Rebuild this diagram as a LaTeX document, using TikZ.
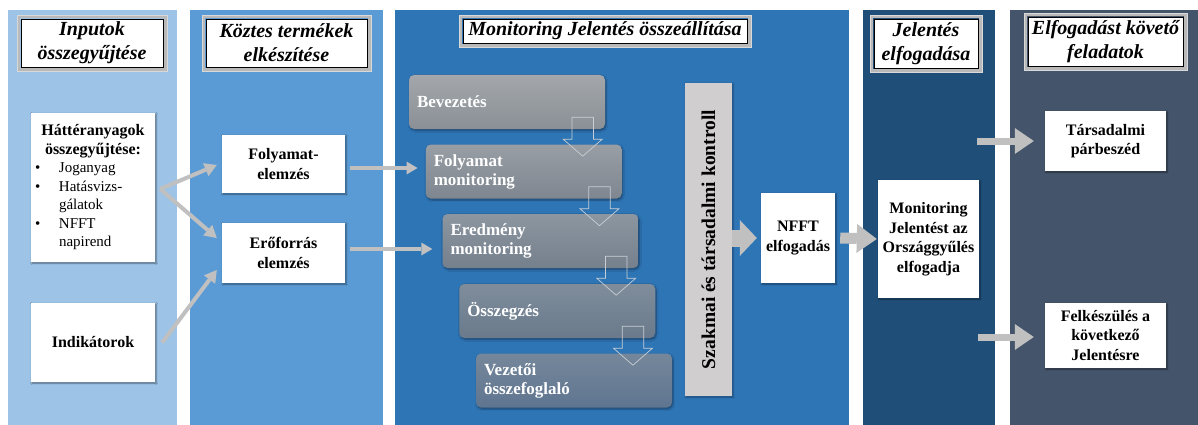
\documentclass[tikz,border=0pt]{standalone}
\usepackage{fontspec}
\setmainfont{Liberation Serif}
\usetikzlibrary{calc,arrows.meta,shadows.blur}

\definecolor{colA}{HTML}{9DC3E6}
\definecolor{colB}{HTML}{5B9BD5}
\definecolor{colC}{HTML}{2E75B6}
\definecolor{colD}{HTML}{1F4E79}
\definecolor{colE}{HTML}{44546A}
\definecolor{arrowgray}{HTML}{C0C0C0}
\definecolor{bargray}{HTML}{D0CECE}
\definecolor{hollowgray}{HTML}{C9CED4}

\tikzset{
  hdr/.style={fill=white, draw=black, line width=0.6pt, inner sep=0pt, align=center,
    font=\fontsize{20}{24}\selectfont\bfseries\itshape},
  wbox/.style={fill=white, inner sep=3pt, align=center,
    font=\fontsize{16}{19.5}\selectfont\bfseries,
    blur shadow={shadow blur steps=6, shadow xshift=1pt, shadow yshift=-1pt, shadow opacity=45}},
  gbox/.style={rounded corners=5pt, inner xsep=8pt, text width=180pt, minimum height=54pt,
    align=left, text=white, font=\fontsize{17}{19}\selectfont\bfseries,
    blur shadow={shadow blur steps=5, shadow xshift=1pt, shadow yshift=-1.5pt, shadow opacity=40}},
  linearrow/.style={arrowgray, line width=4pt,
    -{Triangle[length=12pt, width=14pt, line width=0pt]}},
  hollow/.style={hollowgray, line width=0.7pt, line join=miter},
}

\begin{document}
\begin{tikzpicture}[x=1pt, y=-1pt]
\useasboundingbox (0,0) rectangle (1198,425);
\fill[white] (0,0) rectangle (1198,425);

% column backgrounds
\fill[colA] (8,10) rectangle (177,425);
\fill[colB] (190,10) rectangle (383,425);
\fill[colC] (395,10) rectangle (849,425);
\fill[colD] (863,10) rectangle (995,425);
\fill[colE] (1010,10) rectangle (1198,425);

% column headers
\node[hdr, minimum width=142pt, minimum height=48pt] (h1) at (92,43) {Inputok\\összegyűjtése};
\node[hdr, minimum width=161pt, minimum height=48pt] (h2) at (286.5,43) {Köztes termékek\\elkészítése};
\node[hdr, minimum width=284pt, minimum height=24pt] (h3) at (605,31) {Monitoring Jelentés összeállítása};
\node[hdr, minimum width=104pt, minimum height=49pt] (h4) at (926,43.5) {Jelentés\\elfogadása};
\node[hdr, minimum width=155pt, minimum height=49pt] (h5) at (1105.5,41.5) {Elfogadást követő\\feladatok};
\foreach \h in {h1,h2,h3,h4,h5} {
  \draw[gray!55, line width=3pt] ($(\h.north west)+(-2,-2)$) rectangle ($(\h.south east)+(2,2)$);
  \draw[gray!30, line width=0.6pt] ($(\h.north west)+(-3.6,-3.6)$) rectangle ($(\h.south east)+(3.6,3.6)$);
}

% inputs
\node[wbox, minimum width=124pt, minimum height=149pt, inner sep=4pt] (hatt) at (93,187.5) {%
  \fontsize{15}{18.5}\selectfont
  \begin{tabular}{@{}p{24pt}@{}l@{}}
  \multicolumn{2}{@{}c@{}}{\makebox[116pt]{\fontsize{16}{18.5}\selectfont Háttéranyagok}}\\
  \multicolumn{2}{@{}c@{}}{\makebox[116pt]{\fontsize{16}{18.5}\selectfont összegyűjtése:}}\\
  \mdseries\textbullet & \mdseries Joganyag\\
  \mdseries\textbullet & \mdseries Hatásvizs-\\
   & \mdseries gálatok\\
  \mdseries\textbullet & \mdseries NFFT\\
   & \mdseries napirend
  \end{tabular}};
\node[wbox, minimum width=124pt, minimum height=79pt] (ind) at (93,342.5) {Indikátorok};

% intermediate products
\node[wbox, minimum width=123pt, minimum height=58pt] (fe) at (283.5,164) {Folyamat-\\elemzés};
\node[wbox, minimum width=123pt, minimum height=60pt] (ef) at (283.5,253) {Erőforrás\\elemzés};

% report chapters
\node[gbox, top color={rgb,255:red,163;green,167;blue,171}, bottom color={rgb,255:red,138;green,144;blue,150}] (b1) at (507,102) {Bevezetés};
\node[gbox, top color={rgb,255:red,152;green,158;blue,164}, bottom color={rgb,255:red,126;green,134;blue,144}] (b2) at (523.75,171.5) {Folyamat\\monitoring};
\node[gbox, top color={rgb,255:red,140;green,150;blue,160}, bottom color={rgb,255:red,117;green,128;blue,141}] (b3) at (540.5,241) {Eredmény\\monitoring};
\node[gbox, top color={rgb,255:red,127;green,141;blue,155}, bottom color={rgb,255:red,106;green,122;blue,140}] (b4) at (557.25,311) {Összegzés};
\node[gbox, top color={rgb,255:red,117;green,135;blue,154}, bottom color={rgb,255:red,95;green,117;blue,144}] (b5) at (574,380.5) {Vezetői\\összefoglaló};

% hollow arrows between chapters
\foreach \i in {1,2,3,4} {
  \draw[hollow] ($(b\i.south east)+(-33.3,-12)$) -- ($(b\i.south east)+(-11.7,-12)$)
    -- ($(b\i.south east)+(-11.7,10)$) -- ($(b\i.south east)+(-3,10)$)
    -- ($(b\i.south east)+(-22.5,27)$) -- ($(b\i.south east)+(-42,10)$)
    -- ($(b\i.south east)+(-33.3,10)$) -- cycle;
}

% control bar
\node[fill=bargray, minimum width=313pt, minimum height=47pt, rotate=90, inner sep=0pt,
      font=\fontsize{19.5}{22}\selectfont\bfseries,
      blur shadow={shadow blur steps=4, shadow xshift=1pt, shadow yshift=-1pt, shadow opacity=35}]
      (bar) at (708.5,239.5) {Szakmai és társadalmi kontroll};

% adoption
\node[wbox, minimum width=74pt, minimum height=90pt] (nfft) at (798,238) {NFFT\\elfogadás};
\node[wbox, minimum width=101pt, minimum height=118pt, inner sep=1pt] (mon) at (928.5,239) {Monitoring\\Jelentést az\\Országgyűlés\\elfogadja};

% follow-up tasks
\node[wbox, minimum width=121pt, minimum height=60pt] (tars) at (1105.5,141) {Társadalmi\\párbeszéd};
\node[wbox, minimum width=121pt, minimum height=65pt] (felk) at (1105.5,335.5) {Felkészülés a\\következő\\Jelentésre};

% connectors
\coordinate (fork) at ($(hatt.east)+(5,1.5)$);
\draw[linearrow] (fork) -- ($(fe.west)+(-5,1)$);
\draw[linearrow] (fork) -- ($(ef.west)+(-5,-15)$);
\draw[linearrow] ($(ind.east)+(7,0)$) -- ($(ef.west)+(-5,17)$);

\draw[arrowgray, line width=3.5pt, -{Triangle[length=11pt, width=13pt, line width=0pt]}]
  ($(fe.east)+(5,4)$) -- ($(b2.west)+(-8,-3.5)$);
\draw[arrowgray, line width=3.5pt, -{Triangle[length=11pt, width=13pt, line width=0pt]}]
  ($(ef.east)+(5,-4)$) -- ($(b3.west)+(-10,8)$);

\draw[arrowgray, line width=17pt, -{Triangle[length=17pt, width=36pt, line width=0pt]}]
  (bar.south |- nfft.west) -- ($(nfft.west)+(-4,0)$);
\draw[arrowgray, line width=11pt, -{Triangle[length=20pt, width=29pt, line width=0pt]}]
  ($(nfft.east)+(5,0)$) -- ($(mon.west)+(-1,0)$);

\coordinate (t0) at (977,141);
\coordinate (f0) at (978,337);
\draw[arrowgray, line width=7pt, -{Triangle[length=19pt, width=26pt, line width=0pt]}]
  (t0) -- ($(tars.west)+(-11,0)$);
\draw[arrowgray, line width=7pt, -{Triangle[length=19pt, width=26pt, line width=0pt]}]
  (f0) -- ($(felk.west |- f0)+(-11,0)$);
\end{tikzpicture}
\end{document}
